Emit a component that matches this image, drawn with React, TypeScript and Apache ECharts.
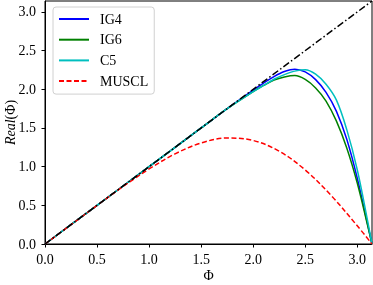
import React, { useEffect, useRef } from "react";
import * as echarts from "echarts";

const PI = Math.PI;
const PHI = [0, 0.5, 1.0, 1.5, 1.75, 2.0, 2.1, 2.2, 2.3, 2.4, 2.5, 2.6, 2.7, 2.8, 2.9, 3.0, 3.1, PI];
const IG4 = [0, 0.5, 1.0, 1.5, 1.75, 1.99, 2.08, 2.165, 2.23, 2.26, 2.225, 2.125, 1.96, 1.715, 1.35, 0.85, 0.25, 0];
const IG6 = [0, 0.5, 1.0, 1.5, 1.75, 1.97, 2.05, 2.12, 2.16, 2.178, 2.128, 2.018, 1.848, 1.588, 1.238, 0.788, 0.238, 0];
const C5 = [0, 0.5, 1.0, 1.5, 1.75, 1.97, 2.05, 2.13, 2.19, 2.235, 2.253, 2.195, 2.065, 1.86, 1.475, 0.96, 0.295, 0];
const PHI_MUSCL = [0, 0.25, 0.5, 0.75, 1.0, 1.25, 1.5, 1.75, 2.0, 2.25, 2.5, 2.75, 3.0, PI];
const MUSCL = [0, 0.25, 0.499, 0.743, 0.97, 1.166, 1.306, 1.371, 1.338, 1.2, 0.957, 0.626, 0.235, 0];
const DIAG_X = [0, PI];
const TICKS = [0, 0.5, 1.0, 1.5, 2.0, 2.5, 3.0];

const FONT = "Liberation Serif";
const FS = 14;

function pairs(xs: number[], ys: number[]) {
  return xs.map((x, i) => [x, ys[i]]);
}

export default function App() {
  const ref = useRef<HTMLDivElement>(null);
  useEffect(() => {
    if (!ref.current) return;
    const chart = echarts.init(ref.current, null, { renderer: "svg" });
    const axisCommon = {
      type: "value" as const,
      min: 0,
      max: PI,
      nameMoveOverlap: false,
      axisLine: { show: true, lineStyle: { color: "#000", width: 1 } },
      axisTick: {
        show: true,
        inside: false,
        length: 3.5,
        lineStyle: { color: "#000", width: 1 },
        customValues: TICKS,
      },
      splitLine: { show: false },
    };
    const line = (name: string, xs: number[], ys: number[], color: string, type: any = "solid") => ({
      name,
      type: "line",
      data: pairs(xs, ys),
      smooth: 0.35,
      symbol: "none",
      lineStyle: { color, width: 1.5, type },
      itemStyle: { color },
      z: 3,
    });
    chart.setOption({
      animation: false,
      grid: {
        left: 45,
        top: 1,
        width: 327,
        height: 243,
        show: true,
        borderColor: "#000",
        borderWidth: 1,
        backgroundColor: "#fff",
        outerBoundsMode: "none",
        containLabel: false,
      },
      legend: {
        orient: "vertical",
        left: 53,
        top: 7,
        padding: [5, 6, 6, 5],
        itemWidth: 30,
        itemHeight: 14,
        itemGap: 6.7,
        itemStyle: { opacity: 0 },
        backgroundColor: "rgba(255,255,255,0.8)",
        borderColor: "#d0d0d0",
        borderWidth: 1,
        borderRadius: 3,
        data: ["IG4", "IG6", "C5", "MUSCL"],
        textStyle: {
          fontFamily: FONT,
          fontSize: FS,
          color: "#000",
          padding: [0, 0, 0, 6],
        },
      },
      xAxis: {
        ...axisCommon,
        name: "Φ",
        nameLocation: "middle",
        nameGap: 24,
        nameTextStyle: { fontFamily: FONT, fontSize: FS, color: "#000" },
        axisLabel: {
          customValues: TICKS,
          formatter: (v: number) => v.toFixed(1),
          fontFamily: FONT,
          fontSize: FS,
          color: "#000",
          margin: 8,
        },
      },
      yAxis: {
        ...axisCommon,
        name: "{i|Real}(Φ)",
        nameLocation: "middle",
        nameGap: 28,
        nameRotate: 90,
        nameTextStyle: {
          fontFamily: FONT,
          fontSize: FS,
          color: "#000",
          rich: { i: { fontFamily: FONT, fontSize: FS, fontStyle: "italic", color: "#000" } },
        },
        axisLabel: {
          customValues: TICKS,
          formatter: (v: number) => v.toFixed(1),
          fontFamily: FONT,
          fontSize: FS,
          color: "#000",
          margin: 9,
        },
      },
      series: [
        line("IG4", PHI, IG4, "#0000ff"),
        line("IG6", PHI, IG6, "#008000"),
        line("C5", PHI, C5, "#00bfbf"),
        line("MUSCL", PHI_MUSCL, MUSCL, "#ff0000", [5, 2.5]),
        {
          name: "diag",
          type: "line",
          data: pairs(DIAG_X, DIAG_X),
          symbol: "none",
          lineStyle: { color: "#000", width: 1.5, type: [7, 2.5, 1.5, 2.5] },
          itemStyle: { color: "#000" },
          z: 4,
        },
      ],
    });
    return () => chart.dispose();
  }, []);
  return (
    <div
      ref={ref}
      style={{ position: "fixed", left: 0, top: 0, width: 373, height: 285 }}
    />
  );
}
